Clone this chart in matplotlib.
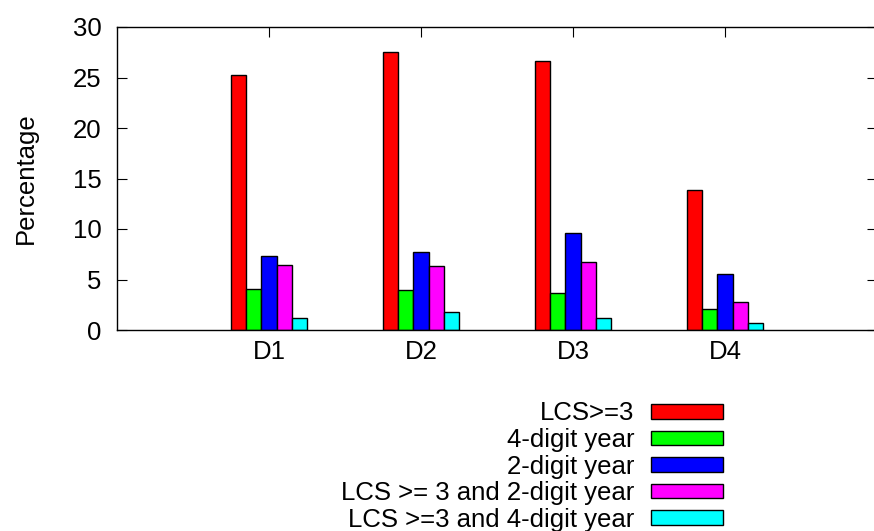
import numpy as np
import matplotlib
matplotlib.use('Agg')
import matplotlib.pyplot as plt

plt.rcParams['font.family'] = ['Liberation Sans', 'DejaVu Sans']

# ------------------------------------------------------------
# Data: percentage per dataset
# ------------------------------------------------------------
datasets = ['D1', 'D2', 'D3', 'D4']
series_names = ['LCS>=3', '4-digit year', '2-digit year',
                'LCS >= 3 and 2-digit year', 'LCS >=3 and 4-digit year']
lcs3       = [25.2, 27.5, 26.6, 13.9]
year4      = [4.1, 4.0, 3.7, 2.1]
year2      = [7.3, 7.7, 9.6, 5.5]
lcs3_year2 = [6.4, 6.3, 6.7, 2.8]
lcs3_year4 = [1.2, 1.8, 1.2, 0.7]

series = [lcs3, year4, year2, lcs3_year2, lcs3_year4]
colors = ['#ff0000', '#00ff00', '#0000ff', '#ff00ff', '#00ffff']

FS = 18.5

# ------------------------------------------------------------
# Plot
# ------------------------------------------------------------
fig = plt.figure(figsize=(8.74, 5.31), dpi=100)
ax = fig.add_axes([117 / 874, 1 - 330 / 531, 760 / 874, 303 / 531])

x = np.arange(len(datasets))
width = 0.1
for k, (vals, name, col) in enumerate(zip(series, series_names, colors)):
    ax.bar(x + (k - 2) * width, vals, width, color=col, edgecolor='black',
           linewidth=1.0, label=name, zorder=2)

ax.set_xlim(-1, 4)
ax.set_ylim(0, 30)
ax.set_xticks(x)
ax.set_xticklabels(datasets)
ax.set_yticks(np.arange(0, 31, 5))
ax.tick_params(axis='both', direction='in', length=7.5, width=0.8,
               labelsize=FS, top=True, right=True)
ax.tick_params(axis='x', pad=7)
ax.tick_params(axis='y', pad=11)
ax.set_ylabel('Percentage', fontsize=FS)
ax.yaxis.set_label_coords(-0.104, 0.5)
ax.spines['right'].set_visible(False)
for sp in ax.spines.values():
    sp.set_linewidth(1.0)

ax.legend(loc='upper right', bbox_to_anchor=(722.7 / 874, 1 - 401.5 / 531),
          bbox_transform=fig.transFigure, frameon=False, markerfirst=False,
          fontsize=FS, handlelength=2.8, handleheight=0.49,
          handletextpad=0.65, labelspacing=0.1, borderpad=0,
          borderaxespad=0)

plt.savefig('out.png', dpi=100)
